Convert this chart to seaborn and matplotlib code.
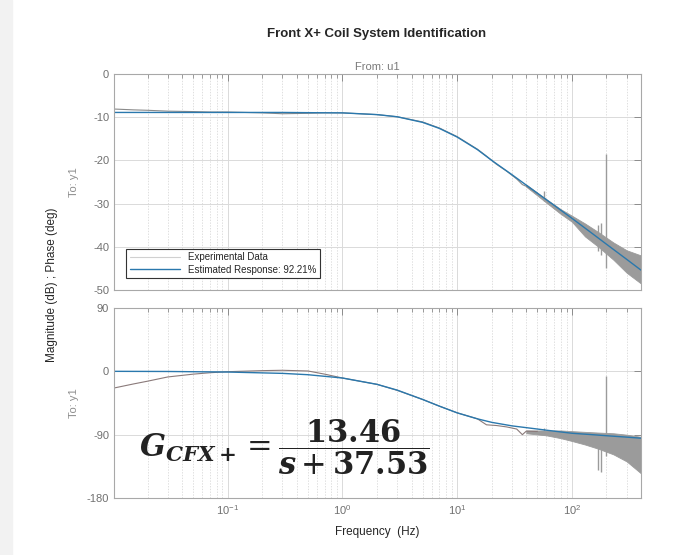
import numpy as np
import matplotlib
matplotlib.use('Agg')
import matplotlib.pyplot as plt
import seaborn as sns
from matplotlib.ticker import FixedLocator, LogLocator, NullFormatter
from matplotlib.patches import Rectangle

# ---- values ----
# estimated response (first order fit)
freq_fit = [0.01, 0.03, 0.1, 0.3, 0.5, 1, 2, 3, 5, 7, 10, 15, 20, 30, 50, 70, 100, 150, 200, 300, 400]
mag_fit = [-8.9, -8.9, -8.9, -8.9, -8.95, -9.0, -9.4, -9.9, -11.2, -12.6, -14.6, -17.5,
           -20.0, -23.3, -27.6, -30.4, -33.4, -36.9, -39.4, -42.9, -45.4]
phase_fit = [0.0, -0.2, -1.0, -2.9, -4.8, -9.5, -18.5, -26.7, -40.0, -49.5, -59.0, -67.5,
             -72.5, -77.5, -82.0, -85.0, -88.0, -90.0, -91.5, -93.5, -95.0]

# experimental data (centre line)
freq_exp = [0.01, 0.015, 0.02, 0.03, 0.05, 0.07, 0.1, 0.2, 0.3, 0.5, 0.7, 1, 2, 3, 5, 7,
            10, 15, 18, 22, 27, 33, 37, 40, 50]
mag_exp = [-8.1, -8.3, -8.4, -8.6, -8.7, -8.8, -8.8, -9.0, -9.2, -9.1, -9.0, -9.0, -9.4,
           -9.9, -11.1, -12.5, -14.5, -17.4, -19.0, -20.9, -22.5, -24.3, -25.6, -26.0, -27.6]
phase_exp = [-24.0, -18.0, -14.0, -8.0, -4.0, -2.0, -0.5, 1.0, 1.5, 0.5, -4.0, -9.5, -18.5,
             -27.0, -40.0, -49.5, -59.0, -67.5, -76.0, -77.0, -79.0, -82.0, -90.0, -85.0, -85.5]

# noisy high-frequency part of the experimental data (envelopes)
band_freq = [40, 60, 80, 100, 130, 170, 230, 300, 400]
mag_upper = [-25.6, -29.0, -31.3, -32.8, -34.6, -36.6, -39.0, -40.8, -42.0]
mag_lower = [-26.1, -29.8, -32.4, -34.2, -37.6, -40.0, -43.0, -46.0, -48.5]
phase_upper = [-84, -84, -84, -85, -86, -87, -88, -90, -93]
phase_lower = [-88, -91, -95, -99, -104, -110, -118, -128, -145]

# isolated spikes in the data
spike_freq = [57, 170, 181, 200]
spike_mag_lo = [-29.5, -41.0, -42.0, -45.0]
spike_mag_hi = [-27.0, -35.0, -34.5, -18.5]
spike_ph_lo = [-86, -140, -143, -120]
spike_ph_hi = [-80, -92, -92, -6]

sns.set_style('white')
plt.rcParams['font.family'] = ['Liberation Sans', 'DejaVu Sans']
plt.rcParams['axes.unicode_minus'] = False

blue = '#2a78ad'
gray = '#9b9b9b'

fig = plt.figure(figsize=(7, 5.55), dpi=100)
fig.patches.append(Rectangle((0, 0), 12 / 700, 1, transform=fig.transFigure,
                             color='#f2f2f2', zorder=-1))
ax_mag = fig.add_axes([114 / 700, 1 - 290 / 555, 527 / 700, 216 / 555])
ax_ph = fig.add_axes([114 / 700, 1 - 498 / 555, 527 / 700, 190 / 555])


def style_axes(ax):
    ax.set_xscale('log')
    ax.set_xlim(0.0102, 400)
    ax.xaxis.set_major_locator(FixedLocator([0.1, 1, 10, 100]))
    ax.xaxis.set_minor_locator(LogLocator(base=10, subs=np.arange(2, 10), numticks=30))
    ax.xaxis.set_minor_formatter(NullFormatter())
    ax.set_axisbelow(True)
    ax.grid(which='major', color='#dadada', lw=0.7, ls='-')
    ax.grid(which='minor', axis='x', color='#d2d2d2', lw=0.5, ls=(0, (2, 2)))
    ax.tick_params(which='both', direction='in', top=True, right=True,
                   colors='#8c8c8c', labelcolor='#707070', labelsize=8)
    ax.tick_params(which='major', length=5, width=0.7)
    ax.tick_params(which='minor', length=3, width=0.6)
    for s in ax.spines.values():
        s.set_color('#a8a8a8')
        s.set_linewidth(0.8)


# magnitude
style_axes(ax_mag)
ax_mag.fill_between(band_freq, mag_lower, mag_upper, color=gray, lw=0.6, ec=gray)
ax_mag.vlines(spike_freq, spike_mag_lo, spike_mag_hi, color=gray, lw=1.0)
sns.lineplot(x=freq_exp, y=mag_exp, ax=ax_mag, color='#8a8a8a', lw=0.8,
             label='Experimental Data', sort=True)
sns.lineplot(x=freq_fit, y=mag_fit, ax=ax_mag, color=blue, lw=1.0,
             label='Estimated Response: 92.21%', sort=True)
ax_mag.set_ylim(-50, 0)
ax_mag.set_yticks([0, -10, -20, -30, -40, -50])
ax_mag.tick_params(labelbottom=False)
ax_mag.set_xlabel('')
ax_mag.set_ylabel('To: y1', color='#8c8c8c', fontsize=8)
ax_mag.yaxis.set_label_coords(-0.066, 0.5)
leg = ax_mag.legend(loc='lower left', bbox_to_anchor=(0.023, 0.056), borderaxespad=0,
                    fancybox=False, edgecolor='#333333', fontsize=7, handlelength=5.2,
                    framealpha=1, borderpad=0.35, labelspacing=0.25)
leg.get_frame().set_linewidth(0.8)
leg.get_lines()[0].set_color('#d0d0d0')

# phase
style_axes(ax_ph)
ax_ph.fill_between(band_freq, phase_lower, phase_upper, color=gray, lw=0.6, ec=gray)
ax_ph.vlines(spike_freq, spike_ph_lo, spike_ph_hi, color=gray, lw=1.0)
sns.lineplot(x=freq_exp, y=phase_exp, ax=ax_ph, color='#8a7a7a', lw=0.8, sort=True)
sns.lineplot(x=freq_fit, y=phase_fit, ax=ax_ph, color=blue, lw=1.0, sort=True)
ax_ph.set_ylim(-180, 90)
ax_ph.set_yticks([90, 0, -90, -180])
ax_ph.set_xlabel('')
ax_ph.set_ylabel('To: y1', color='#8c8c8c', fontsize=8)
ax_ph.yaxis.set_label_coords(-0.066, 0.5)

# texts
fig.text(377 / 700, 1 - 34 / 555, 'Front X+ Coil System Identification',
         ha='center', va='center', fontsize=9.5, fontweight='bold')
fig.text(377 / 700, 1 - 67 / 555, 'From: u1', ha='center', va='center',
         fontsize=8, color='#7a7a7a')
fig.text(52 / 700, 1 - 285 / 555, 'Magnitude (dB) ; Phase (deg)', ha='center',
         va='center', rotation=90, fontsize=8.5)
fig.text(377 / 700, 1 - 532 / 555, 'Frequency  (Hz)', ha='center', va='center',
         fontsize=8.5)
fig.text(284 / 700, 1 - 447 / 555,
         r'$\mathbfit{G}_{\mathbfit{CFX+}} = \dfrac{\mathbf{13.46}}{\mathbfit{s} + \mathbf{37.53}}$',
         ha='center', va='center', fontsize=22, color='#222222',
         math_fontfamily='dejavuserif')

fig.savefig('out.png', dpi=100)
